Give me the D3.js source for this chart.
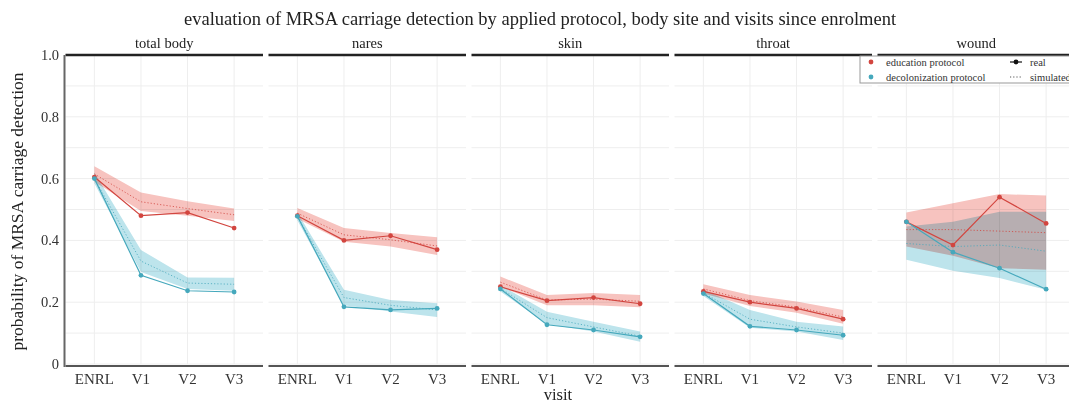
<!DOCTYPE html>
<html>
<head>
<meta charset="utf-8">
<script src="https://cdn.jsdelivr.net/npm/d3@7"></script>
<style>
  body { margin: 0; background: #fff; }
  svg { display: block; font-family: "Liberation Serif", "DejaVu Serif", serif; }
</style>
</head>
<body>
<div id="chart"></div>
<script>
const visits = ["ENRL", "V1", "V2", "V3"];
const sites = ["total body", "nares", "skin", "throat", "wound"];
const protocols = ["education protocol", "decolonization protocol"];
const yTicks = [0, 0.2, 0.4, 0.6, 0.8, 1.0];
const yGrid = [0, 0.1, 0.2, 0.3, 0.4, 0.5, 0.6, 0.7, 0.8, 0.9, 1.0];

// real observed probabilities, one row per site
const eduReal = [
  [0.605, 0.48, 0.49, 0.44],
  [0.48, 0.40, 0.415, 0.37],
  [0.25, 0.205, 0.215, 0.195],
  [0.235, 0.20, 0.18, 0.145],
  [0.46, 0.385, 0.54, 0.455]
];
const decReal = [
  [0.60, 0.287, 0.237, 0.233],
  [0.478, 0.185, 0.175, 0.18],
  [0.243, 0.127, 0.11, 0.088],
  [0.228, 0.122, 0.11, 0.093],
  [0.46, 0.362, 0.31, 0.242]
];

// simulated means
const eduSim = [
  [0.615, 0.525, 0.503, 0.483],
  [0.488, 0.418, 0.402, 0.382],
  [0.265, 0.207, 0.21, 0.203],
  [0.243, 0.205, 0.184, 0.152],
  [0.435, 0.435, 0.43, 0.425]
];
const decSim = [
  [0.60, 0.333, 0.262, 0.258],
  [0.478, 0.215, 0.19, 0.175],
  [0.245, 0.15, 0.12, 0.09],
  [0.23, 0.145, 0.12, 0.10],
  [0.39, 0.38, 0.385, 0.365]
];

// simulated intervals
const eduLo = [
  [0.59, 0.495, 0.48, 0.463],
  [0.47, 0.396, 0.38, 0.353],
  [0.25, 0.19, 0.19, 0.184],
  [0.228, 0.188, 0.166, 0.13],
  [0.38, 0.35, 0.31, 0.305]
];
const eduHi = [
  [0.64, 0.555, 0.527, 0.503],
  [0.505, 0.44, 0.424, 0.41],
  [0.283, 0.223, 0.23, 0.223],
  [0.258, 0.223, 0.202, 0.175],
  [0.49, 0.52, 0.55, 0.545]
];
const decLo = [
  [0.585, 0.298, 0.243, 0.237],
  [0.465, 0.19, 0.17, 0.152],
  [0.235, 0.129, 0.105, 0.072],
  [0.22, 0.117, 0.105, 0.078],
  [0.337, 0.302, 0.278, 0.24]
];
const decHi = [
  [0.62, 0.369, 0.28, 0.279],
  [0.49, 0.24, 0.207, 0.197],
  [0.255, 0.169, 0.137, 0.105],
  [0.24, 0.175, 0.137, 0.121],
  [0.445, 0.46, 0.493, 0.493]
];

const width = 1069, height = 404;
const left = 65.5, panelW = 197.5, gap = 5.5;
const plotTop = 55, plotBottom = 364;

const lineCol = ["#d2453f", "#45a8bc"];
const ribbonCol = ["#f7c3bf", "#bde4ec"];

const svg = d3.select("#chart").append("svg")
  .attr("width", width)
  .attr("height", height);

const y = d3.scaleLinear().domain([0, 1]).range([plotBottom, plotTop]);

const panelX = d3.scaleBand()
  .domain(sites)
  .range([left, left + sites.length * panelW + (sites.length - 1) * gap])
  .paddingInner(gap / (panelW + gap));

const x = d3.scalePoint().domain(visits).range([0, panelW]).padding(0.62);

// title
svg.append("text")
  .attr("x", 540).attr("y", 25)
  .attr("text-anchor", "middle")
  .style("font-size", "18.5px")
  .attr("fill", "#222")
  .text("evaluation of MRSA carriage detection by applied protocol, body site and visits since enrolment");

sites.forEach((site, si) => {
  const g = svg.append("g").attr("transform", `translate(${panelX(site)},0)`);

  // grid
  g.selectAll(".hg").data(yGrid).join("line")
    .attr("x1", 0).attr("x2", panelW)
    .attr("y1", d => y(d)).attr("y2", d => y(d))
    .attr("stroke", "#eeeeee").attr("stroke-width", 1);
  g.selectAll(".vg").data(visits).join("line")
    .attr("x1", d => x(d)).attr("x2", d => x(d))
    .attr("y1", plotTop).attr("y2", plotBottom)
    .attr("stroke", "#eeeeee").attr("stroke-width", 1);

  const lo = [eduLo[si], decLo[si]];
  const hi = [eduHi[si], decHi[si]];
  const sim = [eduSim[si], decSim[si]];
  const real = [eduReal[si], decReal[si]];

  const area = d3.area()
    .x((d, i) => x(visits[i]))
    .y0(d => y(d[0]))
    .y1(d => y(d[1]));

  const line = d3.line()
    .x((d, i) => x(visits[i]))
    .y(d => y(d));

  // ribbons
  protocols.forEach((p, pi) => {
    const band = lo[pi].map((v, i) => [v, hi[pi][i]]);
    g.append("path")
      .datum(band)
      .attr("d", area)
      .attr("fill", ribbonCol[pi])
      .style("mix-blend-mode", "multiply");
  });

  // simulated dotted lines
  protocols.forEach((p, pi) => {
    g.append("path")
      .datum(sim[pi])
      .attr("d", line)
      .attr("fill", "none")
      .attr("stroke", lineCol[pi])
      .attr("stroke-width", 1)
      .attr("stroke-dasharray", "1.2,2")
      .attr("opacity", 0.8);
  });

  // real lines and points
  protocols.forEach((p, pi) => {
    g.append("path")
      .datum(real[pi])
      .attr("d", line)
      .attr("fill", "none")
      .attr("stroke", lineCol[pi])
      .attr("stroke-width", 1.2);
    g.selectAll(".pt" + pi).data(real[pi]).join("circle")
      .attr("cx", (d, i) => x(visits[i]))
      .attr("cy", d => y(d))
      .attr("r", 2.4)
      .attr("fill", lineCol[pi]);
  });

  // strip
  g.append("line")
    .attr("x1", 0).attr("x2", panelW)
    .attr("y1", plotTop).attr("y2", plotTop)
    .attr("stroke", "#222").attr("stroke-width", 2.5);
  g.append("text")
    .attr("x", panelW / 2).attr("y", 48)
    .attr("text-anchor", "middle")
    .style("font-size", "14.5px")
    .attr("fill", "#222")
    .text(site);

  // bottom axis
  g.append("line")
    .attr("x1", 0).attr("x2", panelW)
    .attr("y1", plotBottom + 2).attr("y2", plotBottom + 2)
    .attr("stroke", "#555").attr("stroke-width", 2);
  g.selectAll(".xt").data(visits).join("text")
    .attr("x", d => x(d)).attr("y", 384)
    .attr("text-anchor", "middle")
    .style("font-size", "15px")
    .attr("fill", "#333")
    .text(d => d);
});

// left axis
svg.append("line")
  .attr("x1", left - 1).attr("x2", left - 1)
  .attr("y1", plotTop).attr("y2", plotBottom + 3)
  .attr("stroke", "#666").attr("stroke-width", 2);
svg.selectAll(".yt").data(yTicks).join("text")
  .attr("x", 59).attr("y", d => y(d) + 5)
  .attr("text-anchor", "end")
  .style("font-size", "14.5px")
  .attr("fill", "#333")
  .text(d => d === 0 ? "0" : d.toFixed(1));

// axis titles
svg.append("text")
  .attr("transform", `translate(23,${(plotTop + plotBottom) / 2 + 2}) rotate(-90)`)
  .attr("text-anchor", "middle")
  .style("font-size", "17.5px")
  .attr("fill", "#222")
  .text("probability of MRSA carriage detection");
svg.append("text")
  .attr("x", 558).attr("y", 400)
  .attr("text-anchor", "middle")
  .style("font-size", "16.5px")
  .attr("fill", "#222")
  .text("visit");

// legend
const lg = svg.append("g").attr("transform", "translate(860,56)");
lg.append("rect")
  .attr("x", 0).attr("y", 0)
  .attr("width", 220).attr("height", 27)
  .attr("fill", "#fff")
  .attr("stroke", "#999").attr("stroke-width", 1);
protocols.forEach((p, pi) => {
  const yy = 6 + pi * 15;
  lg.append("circle").attr("cx", 11).attr("cy", yy).attr("r", 2.4).attr("fill", lineCol[pi]);
  lg.append("text").attr("x", 26).attr("y", yy + 3.5)
    .style("font-size", "10.5px").attr("fill", "#333").text(p);
});
lg.append("line").attr("x1", 150).attr("x2", 162).attr("y1", 6).attr("y2", 6)
  .attr("stroke", "#111").attr("stroke-width", 1.2);
lg.append("circle").attr("cx", 156).attr("cy", 6).attr("r", 2.4).attr("fill", "#111");
lg.append("text").attr("x", 170).attr("y", 9.5)
  .style("font-size", "10.5px").attr("fill", "#333").text("real");
lg.append("line").attr("x1", 150).attr("x2", 162).attr("y1", 21).attr("y2", 21)
  .attr("stroke", "#555").attr("stroke-width", 1).attr("stroke-dasharray", "1.2,2");
lg.append("text").attr("x", 170).attr("y", 24.5)
  .style("font-size", "10.5px").attr("fill", "#333").text("simulated");
</script>
</body>
</html>
